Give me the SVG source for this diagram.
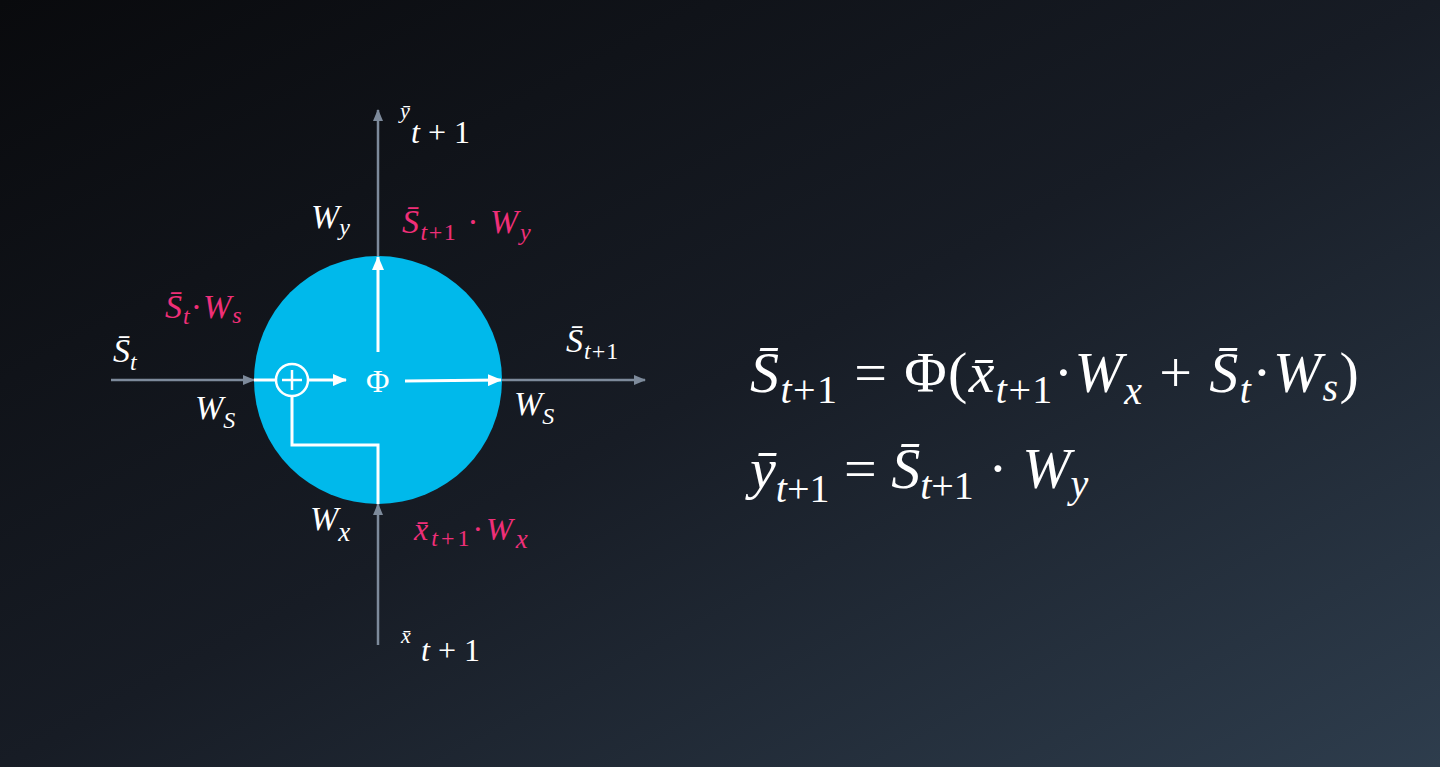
<svg xmlns="http://www.w3.org/2000/svg" width="1440" height="767" viewBox="0 0 1440 767" font-family="Liberation Serif">
<defs>
<linearGradient id="bg" x1="0" y1="0" x2="1" y2="1">
<stop offset="0" stop-color="#090a0d"/>
<stop offset="0.5" stop-color="#171c25"/>
<stop offset="1" stop-color="#2e3d4d"/>
</linearGradient>
<marker id="ag" markerWidth="12" markerHeight="10" refX="11" refY="5" orient="auto" markerUnits="userSpaceOnUse">
<path d="M0,0 L12,5 L0,10 z" fill="#7d8a9b"/>
</marker>
<marker id="aw" markerWidth="14" markerHeight="12" refX="13" refY="6" orient="auto" markerUnits="userSpaceOnUse">
<path d="M0,0 L14,6 L0,12 z" fill="#ffffff"/>
</marker>
<style>
.g{stroke:#7d8a9b;stroke-width:2.5;fill:none}
.w{stroke:#ffffff;stroke-width:3;fill:none}
</style>
</defs>
<rect width="1440" height="767" fill="url(#bg)"/>
<g id="cell">
<circle cx="378" cy="380" r="124" fill="#00b9eb"/>
</g>
<g id="connectors">
<line class="g" x1="378" y1="256" x2="378" y2="110" marker-end="url(#ag)"/>
<line class="g" x1="378" y1="645" x2="378" y2="504" marker-end="url(#ag)"/>
<line class="g" x1="111" y1="380" x2="254" y2="380" marker-end="url(#ag)"/>
<line class="g" x1="502" y1="380" x2="645" y2="380" marker-end="url(#ag)"/>
<line class="w" x1="254" y1="380" x2="276" y2="380"/>
<line class="w" x1="308" y1="380" x2="346" y2="380" marker-end="url(#aw)"/>
<line class="w" x1="405" y1="381" x2="501" y2="380" marker-end="url(#aw)"/>
<line class="w" x1="378" y1="352" x2="378" y2="257" marker-end="url(#aw)"/>
<polyline class="w" points="378,504 378,445 292,445 292,396"/>
</g>
<g id="plus">
<circle cx="292" cy="380" r="16" fill="none" stroke="#ffffff" stroke-width="2.5"/>
<line x1="282" y1="380" x2="302" y2="380" stroke="#ffffff" stroke-width="2.5"/>
<line x1="292" y1="370" x2="292" y2="390" stroke="#ffffff" stroke-width="2.5"/>
</g>
<g id="phi"><text font-family="Liberation Serif" x="366" y="392" font-size="32" fill="#ffffff">Φ</text></g>
<g id="labels">
<text font-family="Liberation Serif" font-style="italic" fill="#ffffff" x="400" y="118" font-size="22">ȳ</text>
<text font-family="Liberation Serif" font-style="italic" fill="#ffffff" x="411" y="143" font-size="32">t<tspan font-style="normal"> + 1</tspan></text>
<text font-family="Liberation Serif" font-style="italic" fill="#ffffff" x="311" y="228" font-size="34">W<tspan dy="7" font-size="24">y</tspan></text>
<text font-family="Liberation Serif" font-style="italic" fill="#ef2f78" x="402" y="233" font-size="34" letter-spacing="1.5">S̄<tspan dy="7" font-size="24">t</tspan><tspan font-style="normal" font-size="24">+1</tspan><tspan dy="-7" font-style="normal"> · </tspan>W<tspan dy="7" font-size="24">y</tspan></text>
<text font-family="Liberation Serif" font-style="italic" fill="#ef2f78" x="165" y="318" font-size="34" letter-spacing="1">S̄<tspan dy="6" font-size="24">t</tspan><tspan dy="-6" font-style="normal">·</tspan>W<tspan dy="5" font-size="24">s</tspan></text>
<text font-family="Liberation Serif" font-style="italic" fill="#ffffff" x="113" y="362" font-size="34">S̄<tspan dy="8" font-size="24">t</tspan></text>
<text font-family="Liberation Serif" font-style="italic" fill="#ffffff" x="195" y="419" font-size="34">W<tspan dy="9" font-size="24">S</tspan></text>
<text font-family="Liberation Serif" font-style="italic" fill="#ffffff" x="566" y="352" font-size="34" letter-spacing="1">S̄<tspan dy="7" font-size="24">t</tspan><tspan font-style="normal" font-size="24">+1</tspan></text>
<text font-family="Liberation Serif" font-style="italic" fill="#ffffff" x="514" y="415" font-size="34">W<tspan dy="9" font-size="24">S</tspan></text>
<text font-family="Liberation Serif" font-style="italic" fill="#ffffff" x="310" y="530" font-size="34">W<tspan dy="11" font-size="27">x</tspan></text>
<text font-family="Liberation Serif" font-style="italic" fill="#ef2f78" x="414" y="540" font-size="32" letter-spacing="3">x̄<tspan dy="6" font-size="24">t</tspan><tspan font-style="normal" font-size="24">+1</tspan><tspan dy="-6" font-style="normal">·</tspan>W<tspan dy="8" font-size="27">x</tspan></text>
<text font-family="Liberation Serif" font-style="italic" fill="#ffffff" x="401" y="643" font-size="22">x̄</text>
<text font-family="Liberation Serif" font-style="italic" fill="#ffffff" x="421" y="661" font-size="32">t<tspan font-style="normal"> + 1</tspan></text>
</g>
<g id="equations">
<text font-family="Liberation Serif" font-style="italic" fill="#ffffff" x="750" y="392" font-size="58" letter-spacing="1.4">S̄<tspan dy="11" font-size="40">t</tspan><tspan font-style="normal" font-size="40">+1</tspan><tspan dy="-11" font-style="normal"> = Φ(</tspan>x̄<tspan dy="11" font-size="40">t</tspan><tspan font-style="normal" font-size="40">+1</tspan><tspan dy="-11" font-style="normal">·</tspan>W<tspan dy="12" font-size="40">x</tspan><tspan dy="-12" font-style="normal"> + </tspan>S̄<tspan dy="11" font-size="40">t</tspan><tspan dy="-11" font-style="normal">·</tspan>W<tspan dy="9" font-size="40">s</tspan><tspan dy="-9" font-style="normal">)</tspan></text>
<text font-family="Liberation Serif" font-style="italic" fill="#ffffff" x="750" y="488" font-size="58">ȳ<tspan dy="14" font-size="40">t</tspan><tspan font-style="normal" font-size="40">+1</tspan><tspan dy="-14" font-style="normal"> = </tspan>S̄<tspan dy="11" font-size="40">t</tspan><tspan font-style="normal" font-size="40">+1</tspan><tspan dy="-11" font-style="normal"> · </tspan>W<tspan dy="9" font-size="40">y</tspan></text>
</g>
</svg>
